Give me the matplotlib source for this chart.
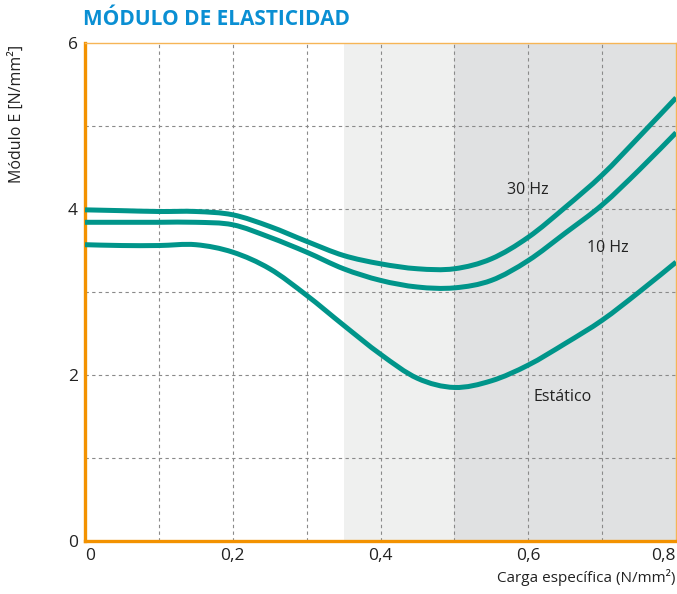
import matplotlib.pyplot as plt
import numpy as np
from matplotlib.path import Path
from matplotlib.patches import PathPatch

plt.rcParams['font.family'] = ['Open Sans', 'DejaVu Sans']

# Carga especifica (N/mm2) and Modulo E (N/mm2)
x_30 = [0, 0.05, 0.1, 0.15, 0.2, 0.25, 0.3, 0.35, 0.4, 0.45, 0.5, 0.55, 0.6, 0.65, 0.7, 0.75, 0.8]
e_30 = [3.99, 3.98, 3.97, 3.97, 3.93, 3.79, 3.61, 3.44, 3.34, 3.28, 3.28, 3.40, 3.66, 4.02, 4.41, 4.87, 5.34]

x_10 = [0, 0.05, 0.1, 0.15, 0.2, 0.25, 0.3, 0.35, 0.4, 0.45, 0.5, 0.55, 0.6, 0.65, 0.7, 0.75, 0.8]
e_10 = [3.84, 3.84, 3.84, 3.84, 3.81, 3.66, 3.48, 3.28, 3.14, 3.06, 3.05, 3.14, 3.38, 3.71, 4.05, 4.47, 4.92]

x_st = [0, 0.05, 0.1, 0.15, 0.2, 0.25, 0.3, 0.35, 0.4, 0.45, 0.5, 0.55, 0.6, 0.65, 0.7, 0.75, 0.8]
e_st = [3.57, 3.56, 3.56, 3.57, 3.48, 3.28, 2.96, 2.60, 2.25, 1.96, 1.85, 1.93, 2.12, 2.38, 2.66, 3.00, 3.36]

curve_labels = ["30 Hz", "10 Hz", "Estático"]
label_pos = [(0.599, 4.23), (0.708, 3.53), (0.646, 1.73)]

x_ticks = [0, 0.2, 0.4, 0.6, 0.8]
x_ticklabels = ["0", "0,2", "0,4", "0,6", "0,8"]
y_ticks = [0, 2, 4, 6]

teal = '#00958a'
orange = '#f39200'


def smooth_path(xs, ys):
    # Catmull-Rom through the read points, drawn as cubic Bezier segments
    pts = np.column_stack([xs, ys])
    verts = [pts[0]]
    codes = [Path.MOVETO]
    for i in range(len(pts) - 1):
        p0 = pts[max(i - 1, 0)]
        p1 = pts[i]
        p2 = pts[i + 1]
        p3 = pts[min(i + 2, len(pts) - 1)]
        verts += [p1 + (p2 - p0) / 6, p2 - (p3 - p1) / 6, p2]
        codes += [Path.CURVE4] * 3
    return Path(verts, codes)


fig = plt.figure(figsize=(6.77, 5.94), dpi=100)
ax = fig.add_axes([0.1256, 0.0892, 0.873, 0.8384])

# shaded load ranges
ax.axvspan(0.35, 0.5, color='#eff0ef', zorder=0, lw=0)
ax.axvspan(0.5, 0.8, color='#e0e1e2', zorder=0, lw=0)

# dashed grid
for gx in np.arange(0.1, 0.75, 0.1):
    ax.axvline(gx, color='#8a8a8a', lw=0.8, ls=(0, (3, 3)), zorder=1)
for gy in [1, 2, 3, 4, 5]:
    ax.axhline(gy, color='#8a8a8a', lw=0.8, ls=(0, (3, 3)), zorder=1)

for xs, es in [(x_30, e_30), (x_10, e_10), (x_st, e_st)]:
    ax.add_patch(PathPatch(smooth_path(xs, es), facecolor='none', edgecolor=teal,
                           lw=3.6, capstyle='butt', zorder=3))

for txt, (tx, ty) in zip(curve_labels, label_pos):
    ax.text(tx, ty, txt, fontsize=11.5, color='#222222', ha='center', va='center', zorder=4)

ax.set_xlim(0, 0.8)
ax.set_ylim(0, 6)
ax.set_xticks(x_ticks)
ax.set_xticklabels(x_ticklabels)
ax.set_yticks(y_ticks)
ax.tick_params(length=0, labelsize=12.5, colors='#222222', pad=5)
ax.get_xticklabels()[-1].set_ha('right')
ax.get_xticklabels()[0].set_ha('left')

for side in ['left', 'bottom']:
    ax.spines[side].set_color(orange)
    ax.spines[side].set_linewidth(2.4)
for side in ['top', 'right']:
    ax.spines[side].set_color('#f6b556')
    ax.spines[side].set_linewidth(1.0)

fig.text(0.1226, 0.967, "MÓDULO DE ELASTICIDAD", fontsize=15, fontweight='bold',
         color='#0a8fd3', ha='left', va='center')
fig.text(0.025, 0.925, "Módulo E [N/mm²]", fontsize=11.5, color='#222222',
         rotation=90, ha='center', va='top')
fig.text(0.997, 0.027, "Carga específica (N/mm²)", fontsize=11, color='#222222',
         ha='right', va='center')

fig.savefig('out.png', dpi=100)
